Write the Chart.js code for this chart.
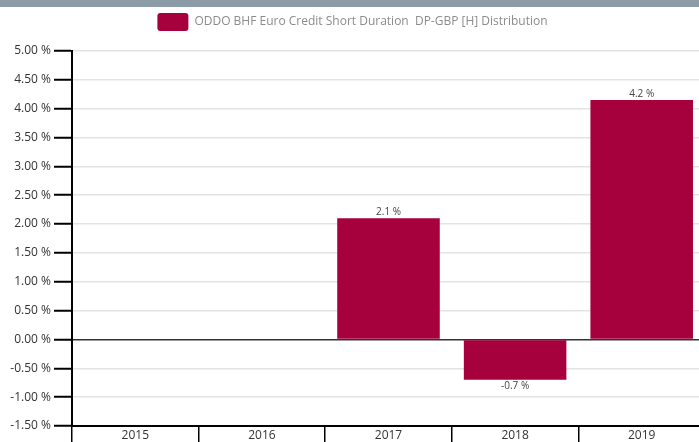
<!DOCTYPE html>
<html>
<head>
<meta charset="utf-8">
<script src="https://cdn.jsdelivr.net/npm/chart.js@4/dist/chart.umd.min.js"></script>
<style>
  html, body { margin: 0; padding: 0; background: #fff; overflow: hidden; }
  #wrap { position: relative; width: 699px; height: 442px; overflow: hidden; }
  #band { position: absolute; left: 0; top: 0; width: 699px; height: 7px; background: #8b9ba8; z-index: 2; }
  #box { position: absolute; left: 0; top: 0; width: 706px; height: 442px; }
</style>
</head>
<body>
<div id="wrap">
  <div id="band"></div>
  <div id="box"><canvas id="chart"></canvas></div>
</div>
<script>
// données du graphique
const years = ['2015', '2016', '2017', '2018', '2019'];
const returns = [null, null, 2.1, -0.7, 4.15];
const seriesName = 'ODDO BHF Euro Credit Short Duration  DP-GBP [H] Distribution';
const yMin = -1.5;
const yMax = 5;
const yStep = 0.5;

const barColor = '#a6003d';
const font = "'Open Sans', sans-serif";

// espace supplémentaire sous la légende
const legendGap = {
    id: 'legendGap',
    beforeInit(chart) {
        const fit = chart.legend.fit;
        chart.legend.fit = function () {
            fit.bind(chart.legend)();
            this.height += 10;
        };
    }
};

// étiquettes de valeur au-dessus / en dessous des barres
const valueLabels = {
    id: 'valueLabels',
    afterDatasetsDraw(chart) {
        const ctx = chart.ctx;
        const meta = chart.getDatasetMeta(0);
        ctx.save();
        ctx.font = '10px ' + font;
        ctx.fillStyle = '#444';
        ctx.textAlign = 'center';
        meta.data.forEach((bar, i) => {
            const v = returns[i];
            if (v === null) return;
            const txt = (Math.round(v * 10) / 10).toFixed(1) + ' %';
            if (v >= 0) {
                ctx.textBaseline = 'bottom';
                ctx.fillText(txt, bar.x, bar.y - 1);
            } else {
                ctx.textBaseline = 'top';
                ctx.fillText(txt, bar.x, bar.y + 1);
            }
        });
        ctx.restore();
    }
};

new Chart(document.getElementById('chart'), {
    type: 'bar',
    data: {
        labels: years,
        datasets: [{
            label: seriesName,
            data: returns,
            backgroundColor: barColor,
            borderColor: barColor,
            borderWidth: 0,
            barPercentage: 0.81,
            categoryPercentage: 1
        }]
    },
    options: {
        responsive: true,
        maintainAspectRatio: false,
        animation: false,
        layout: { padding: { top: 1, right: 1, left: 0, bottom: 0 } },
        plugins: {
            legend: {
                labels: {
                    boxWidth: 31,
                    boxHeight: 18,
                    padding: 12,
                    useBorderRadius: true,
                    borderRadius: 3,
                    color: '#8c8c8c',
                    font: { family: font, size: 12 }
                }
            },
            tooltip: { enabled: false }
        },
        scales: {
            x: {
                border: { display: true, color: '#000', width: 2 },
                grid: {
                    display: true,
                    offset: true,
                    drawOnChartArea: false,
                    tickLength: 16,
                    color: '#000',
                    lineWidth: 1.5
                },
                ticks: {
                    padding: -14,
                    color: '#333',
                    font: { family: font, size: 12 }
                },
                afterFit(scale) { scale.height = 16; }
            },
            y: {
                min: yMin,
                max: yMax,
                border: { display: true, color: '#000', width: 2 },
                grid: {
                    color: ctx => ctx.tick && ctx.tick.value === 0 ? '#333' : '#e3e3e3',
                    lineWidth: 1.5,
                    tickLength: 18,
                    tickColor: '#000',
                    tickWidth: 2
                },
                ticks: {
                    stepSize: yStep,
                    padding: 3,
                    color: '#333',
                    font: { family: font, size: 12 },
                    callback: v => v.toFixed(2) + ' %'
                },
                afterFit(scale) { scale.width = 72; }
            }
        }
    },
    plugins: [legendGap, valueLabels]
});
</script>
</body>
</html>
